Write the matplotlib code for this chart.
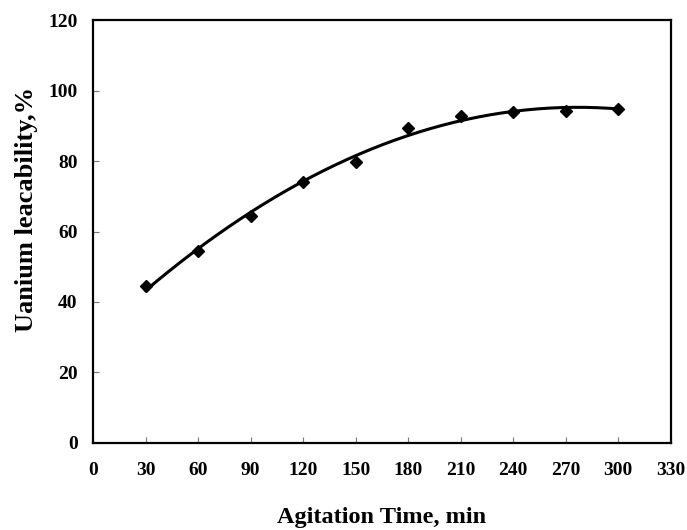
import numpy as np
import matplotlib.pyplot as plt

# agitation time (min) and uranium leachability (%)
time_min = [30, 60, 90, 120, 150, 180, 210, 240, 270, 300]
leach_pct = [44.5, 54.5, 64.3, 74.0, 79.8, 89.5, 92.7, 94.0, 94.3, 94.7]

x_ticks = list(range(0, 331, 30))
y_ticks = list(range(0, 121, 20))

plt.rcParams['font.family'] = ['Liberation Serif', 'DejaVu Serif']

fig = plt.figure(figsize=(6.87, 5.30), dpi=100)
ax = fig.add_axes([0.1354, 0.1642, 0.841, 0.798])

# second order polynomial trendline through the points
coef = np.polyfit(time_min, leach_pct, 2)
xs = np.linspace(time_min[0], time_min[-1], 200)
ax.plot(xs, np.polyval(coef, xs), color='black', lw=2.2, zorder=2)

ax.plot(time_min, leach_pct, linestyle='none', marker='D', ms=6.5,
        color='black', zorder=3)

ax.set_xlim(0, 330)
ax.set_ylim(0, 120)
ax.set_xticks(x_ticks)
ax.set_yticks(y_ticks)
ax.tick_params(direction='in', length=4, width=0.8, color='#777777',
               labelsize=14)
ax.tick_params(axis='x', pad=14)
ax.tick_params(axis='y', pad=11)
for lbl in ax.get_xticklabels() + ax.get_yticklabels():
    lbl.set_fontweight('bold')

for side in ['left', 'right', 'top', 'bottom']:
    ax.spines[side].set_linewidth(1.6)
    ax.spines[side].set_color('black')

ax.set_xlabel('Agitation Time, min', fontsize=17.5, fontweight='bold',
              labelpad=20)
ax.set_ylabel('Uanium leacability,%', fontsize=19, fontweight='bold')
ax.yaxis.set_label_coords(-0.096, 0.553)

plt.savefig('out.png', dpi=100)
